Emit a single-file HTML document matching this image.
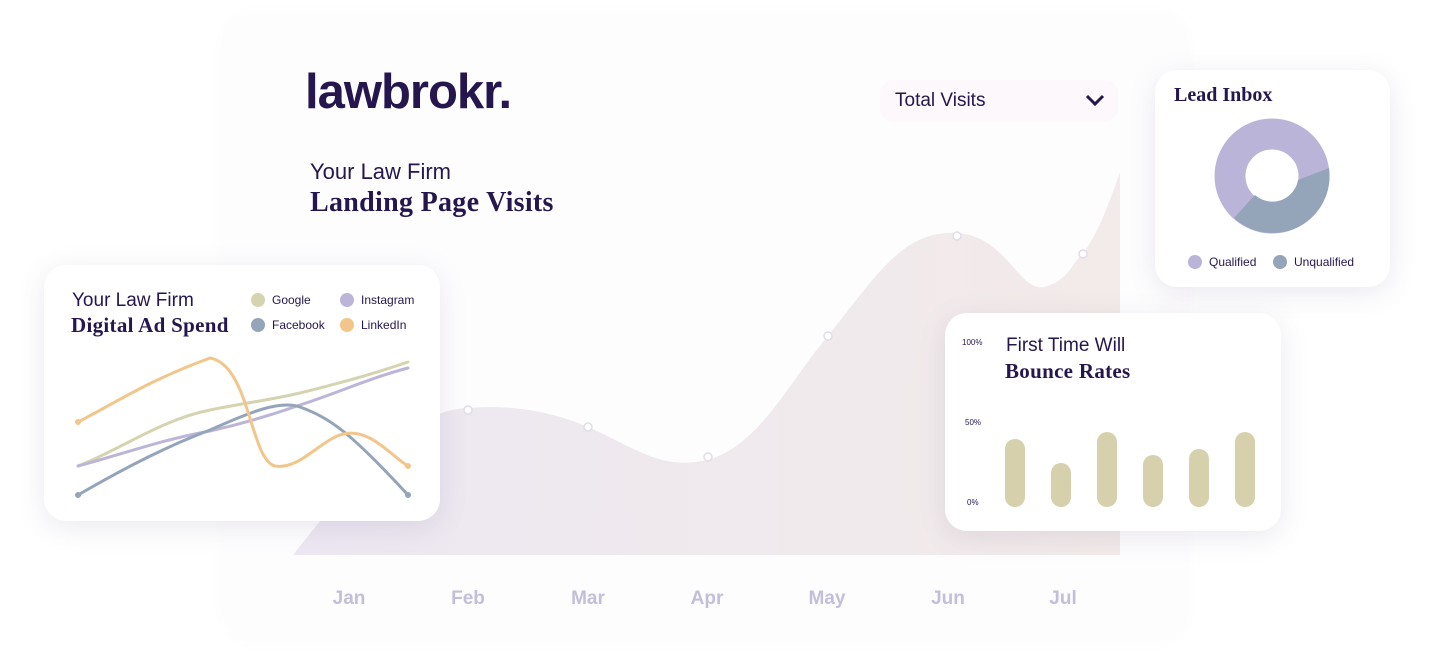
<!DOCTYPE html>
<html><head><meta charset="utf-8"><style>
body{margin:0;width:1432px;height:658px;background:#fff;position:relative;overflow:hidden;font-family:"Liberation Sans",sans-serif;color:#25164d}
.card{position:absolute;background:#fff;border-radius:22px;box-shadow:0 6px 28px rgba(90,80,120,0.13)}
.serif{font-family:"Liberation Serif",serif;font-weight:bold;color:#25164d}
.t{position:absolute;white-space:nowrap}
</style></head><body>
<div style="position:absolute;left:225px;top:15px;width:960px;height:625px;background:#fefdfe;border-radius:30px;box-shadow:0 0 20px rgba(120,100,140,0.025)"></div>
<svg width="1432" height="658" style="position:absolute;left:0;top:0">
<defs><linearGradient id="ga" x1="0" x2="1" y1="0" y2="0"><stop offset="0" stop-color="#ece7f2"/><stop offset="1" stop-color="#f3ebe9"/></linearGradient></defs>
<path d="M293,555 C360,470 410,410 468,408 C520,404 560,415 588,427 C640,450 660,470 708,460 C760,445 790,380 828,336 C880,270 905,230 957,233 C1010,236 1020,300 1050,285 C1070,278 1075,258 1083,254 C1100,230 1110,200 1120,172 L1120,555 Z" fill="url(#ga)"/>
<g fill="#fff" stroke="#e2dce8" stroke-width="1.5">
<circle cx="468" cy="410" r="4"/><circle cx="588" cy="427" r="4"/><circle cx="708" cy="457" r="4"/><circle cx="828" cy="336" r="4"/><circle cx="957" cy="236" r="4"/><circle cx="1083" cy="254" r="4"/></g>
<g font-family="Liberation Sans" font-weight="bold" font-size="19" fill="#c4bedb" text-anchor="middle">
<text x="349" y="604">Jan</text><text x="468" y="604">Feb</text><text x="588" y="604">Mar</text><text x="707" y="604">Apr</text><text x="827" y="604">May</text><text x="948" y="604">Jun</text><text x="1063" y="604">Jul</text></g>
</svg>
<div class="t" style="left:305px;top:64px;font-size:49px;font-weight:bold;letter-spacing:-1px;color:#25164d">lawbrokr.</div>
<div class="t" style="left:310px;top:159px;font-size:22px;color:#25164d">Your Law Firm</div>
<div class="t serif" style="left:310px;top:187px;font-size:28px;letter-spacing:0.3px">Landing Page Visits</div>
<div style="position:absolute;left:880px;top:80px;width:238px;height:42px;background:#fcf8fc;border-radius:14px"></div>
<div class="t" style="left:895px;top:90px;font-size:19px">Total Visits</div>
<svg style="position:absolute;left:1085px;top:93px" width="20" height="14"><path d="M2,3 L10,11 L18,3" fill="none" stroke="#25164d" stroke-width="3"/></svg>

<div class="card" style="left:44px;top:265px;width:396px;height:256px"></div>
<div class="t" style="left:72px;top:290px;font-size:19px">Your Law Firm</div>
<div class="t serif" style="left:71px;top:313px;font-size:21px;letter-spacing:0.3px">Digital Ad Spend</div>
<svg width="1432" height="658" style="position:absolute;left:0;top:0">
<g font-family="Liberation Sans" font-size="12" fill="#25164d">
<circle cx="258" cy="300" r="7" fill="#d6d3b1"/><text x="272" y="304">Google</text>
<circle cx="347" cy="300" r="7" fill="#bcb5d8"/><text x="361" y="304">Instagram</text>
<circle cx="258" cy="325" r="7" fill="#94a4b9"/><text x="272" y="329">Facebook</text>
<circle cx="347" cy="325" r="7" fill="#f2c68a"/><text x="361" y="329">LinkedIn</text></g>
<g fill="none" stroke-width="3" stroke-linecap="round">
<path d="M78,466 C120,450 160,420 210,410 C250,402 270,400 300,393 C340,383 370,375 408,362" stroke="#d6d3b1"/>
<path d="M78,466 C120,455 160,440 210,431 C250,422 280,412 300,405 C340,392 370,378 408,368" stroke="#bcb5d8"/>
<path d="M78,495 C130,465 170,445 210,430 C250,412 280,400 300,407 C330,418 350,432 408,495" stroke="#94a4b9"/>
<path d="M78,422 C120,400 150,380 210,358 C250,365 250,460 275,466 C300,470 320,440 343,434 C370,428 390,455 408,466" stroke="#f2c68a"/>
</g>
<g fill="#94a4b9"><circle cx="78" cy="495" r="3"/><circle cx="408" cy="495" r="3"/></g>
<g fill="#f2c68a"><circle cx="78" cy="422" r="3"/><circle cx="408" cy="466" r="3"/></g>
</svg>

<div class="card" style="left:1155px;top:70px;width:235px;height:217px"></div>
<div class="t serif" style="left:1174px;top:84px;font-size:20px">Lead Inbox</div>
<svg width="1432" height="658" style="position:absolute;left:0;top:0">
<circle cx="1272" cy="176" r="42" fill="none" stroke="#bab4d8" stroke-width="31"/>
<path d="M1329,168 A57,57 0 0,1 1234,218 L1255,195 A26,26 0 0,0 1298,180 Z" fill="#94a4b9"/>
<circle cx="1195" cy="262" r="7" fill="#bab4d8"/><circle cx="1280" cy="262" r="7" fill="#94a4b9"/>
<g font-family="Liberation Sans" font-size="12" fill="#25164d"><text x="1209" y="266">Qualified</text><text x="1294" y="266">Unqualified</text></g>
</svg>

<div class="card" style="left:945px;top:313px;width:336px;height:218px"></div>
<div class="t" style="left:1006px;top:335px;font-size:19px">First Time Will</div>
<div class="t serif" style="left:1005px;top:359px;font-size:21px;letter-spacing:0.3px">Bounce Rates</div>
<svg width="1432" height="658" style="position:absolute;left:0;top:0">
<g font-family="Liberation Sans" font-size="8" fill="#25164d"><text x="962" y="345">100%</text><text x="965" y="425">50%</text><text x="967" y="505">0%</text></g>
<g stroke="#d6d1ac" stroke-width="20" stroke-linecap="round">
<line x1="1015" y1="449" x2="1015" y2="497"/><line x1="1061" y1="473" x2="1061" y2="497"/><line x1="1107" y1="442" x2="1107" y2="497"/><line x1="1153" y1="465" x2="1153" y2="497"/><line x1="1199" y1="459" x2="1199" y2="497"/><line x1="1245" y1="442" x2="1245" y2="497"/></g>
</svg>
</body></html>
